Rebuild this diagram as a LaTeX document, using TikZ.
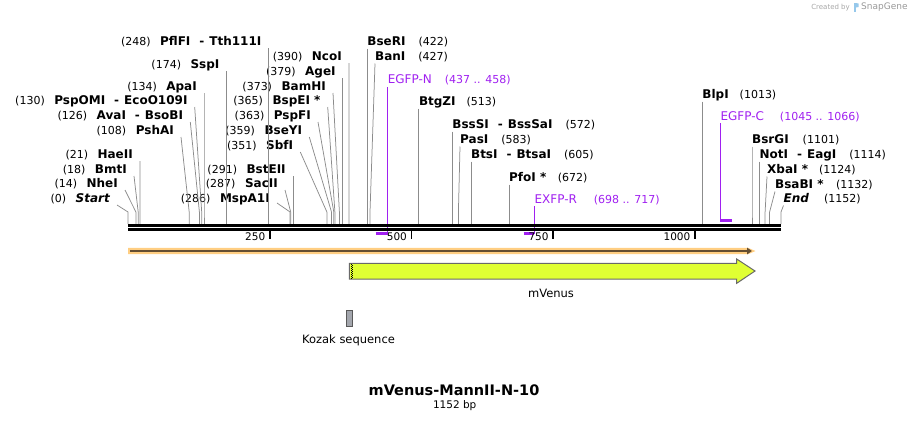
\documentclass[tikz,border=0pt]{standalone}
\usepackage{fontspec}
\setmainfont{DejaVu Sans}
\usetikzlibrary{arrows.meta}
\definecolor{cg}{RGB}{140, 140, 140}
\definecolor{pc}{RGB}{160, 32, 240}
\definecolor{bandlight}{RGB}{255, 206, 130}
\definecolor{banddark}{RGB}{100, 78, 50}
\definecolor{venus}{RGB}{224, 255, 51}
\definecolor{venusedge}{RGB}{105, 105, 105}
\definecolor{kozak}{RGB}{163, 166, 173}
\definecolor{logo}{RGB}{150, 200, 235}
\newcommand{\enz}[1]{{\fontsize{12}{13}\selectfont\bfseries #1}}
\newcommand{\pname}[1]{{\fontsize{12}{13}\selectfont #1}}
\tikzset{
  lsite/.style={inner sep=0pt, anchor=east, font=\fontsize{11}{13}\selectfont},
  rsite/.style={inner sep=0pt, anchor=west, font=\fontsize{11}{13}\selectfont},
  psite/.style={rsite, text=pc},
  cut/.style={draw=cg, line width=0.75pt},
  pline/.style={draw=pc, line width=1.4pt},
  pmark/.style={draw=pc, line width=2.2pt},
  tick/.style={draw=black, line width=1.6pt},
  ticklabel/.style={inner sep=0pt, anchor=east, font=\fontsize{10.5}{12}\selectfont},
}

\begin{document}
\begin{tikzpicture}[x=1pt, y=-1pt]
\useasboundingbox (0,0) rectangle (910,421);

% points on the backbone
\coordinate (x0) at (128.0, 224);
\coordinate (x14) at (135.9, 224);
\coordinate (x18) at (138.2, 224);
\coordinate (x21) at (139.9, 224);
\coordinate (x108) at (189.2, 224);
\coordinate (x126) at (199.4, 224);
\coordinate (x130) at (201.7, 224);
\coordinate (x134) at (204.0, 224);
\coordinate (x174) at (226.6, 224);
\coordinate (x248) at (268.6, 224);
\coordinate (x286) at (290.1, 224);
\coordinate (x287) at (290.7, 224);
\coordinate (x291) at (292.9, 224);
\coordinate (x351) at (326.9, 224);
\coordinate (x359) at (331.5, 224);
\coordinate (x363) at (333.8, 224);
\coordinate (x365) at (334.9, 224);
\coordinate (x373) at (339.4, 224);
\coordinate (x379) at (342.8, 224);
\coordinate (x390) at (349.1, 224);
\coordinate (x422) at (367.2, 224);
\coordinate (x427) at (370.0, 224);
\coordinate (x513) at (418.8, 224);
\coordinate (x572) at (452.2, 224);
\coordinate (x583) at (458.4, 224);
\coordinate (x605) at (470.9, 224);
\coordinate (x672) at (508.9, 224);
\coordinate (x1013) at (702.2, 224);
\coordinate (x1101) at (752.0, 224);
\coordinate (x1114) at (759.4, 224);
\coordinate (x1124) at (765.1, 224);
\coordinate (x1132) at (769.6, 224);
\coordinate (x1152) at (781.0, 224);

% enzyme labels, left side
\node (tth) [lsite] at (261.6, 42) {(248)\hspace{9.5pt}\enz{PflFI\hspace{9pt}-\hspace{5pt}Tth111I}};
\node (sspi) [lsite] at (219.6, 65) {(174)\hspace{9.5pt}\enz{SspI}};
\node (apai) [lsite] at (197.0, 87) {(134)\hspace{9.5pt}\enz{ApaI}};
\node (pspomi) [lsite] at (187.7, 101) {(130)\hspace{9.5pt}\enz{PspOMI\hspace{9pt}-\hspace{5pt}EcoO109I}};
\node (avai) [lsite] at (183.3, 116) {(126)\hspace{9.5pt}\enz{AvaI\hspace{9pt}-\hspace{5pt}BsoBI}};
\node (pshai) [lsite] at (174.0, 131) {(108)\hspace{9.5pt}\enz{PshAI}};
\node (haeii) [lsite] at (133.0, 155) {(21)\hspace{9.5pt}\enz{HaeII}};
\node (bmti) [lsite] at (127.0, 170) {(18)\hspace{9.5pt}\enz{BmtI}};
\node (nhei) [lsite] at (118.0, 184) {(14)\hspace{9.5pt}\enz{NheI}};
\node (start) [lsite] at (110.0, 199) {(0)\hspace{9.5pt}\enz{\itshape Start}};
\node (ncoi) [lsite] at (342.0, 57) {(390)\hspace{9.5pt}\enz{NcoI}};
\node (agei) [lsite] at (335.8, 72) {(379)\hspace{9.5pt}\enz{AgeI}};
\node (bamhi) [lsite] at (326.0, 87) {(373)\hspace{9.5pt}\enz{BamHI}};
\node (bspei) [lsite] at (320.7, 101) {(365)\hspace{9.5pt}\enz{BspEI *}};
\node (pspfi) [lsite] at (311.0, 116) {(363)\hspace{9.5pt}\enz{PspFI}};
\node (bseyi) [lsite] at (302.3, 131) {(359)\hspace{9.5pt}\enz{BseYI}};
\node (sbfi) [lsite] at (293.3, 146) {(351)\hspace{9.5pt}\enz{SbfI}};
\node (bsteii) [lsite] at (285.9, 170) {(291)\hspace{9.5pt}\enz{BstEII}};
\node (sacii) [lsite] at (278.0, 184) {(287)\hspace{9.5pt}\enz{SacII}};
\node (mspa) [lsite] at (270.0, 199) {(286)\hspace{9.5pt}\enz{MspA1I}};

% enzyme labels, right side
\node (bseri) [rsite] at (367.2, 42) {\enz{BseRI}\hspace{13pt}(422)};
\node (bani) [rsite] at (375.0, 57) {\enz{BanI}\hspace{13pt}(427)};
\node (btgzi) [rsite] at (418.8, 102) {\enz{BtgZI}\hspace{11pt}(513)};
\node (bsssi) [rsite] at (452.2, 125) {\enz{BssSI\hspace{9pt}-\hspace{5pt}BssSaI}\hspace{13pt}(572)};
\node (pasi) [rsite] at (460.0, 140) {\enz{PasI}\hspace{13pt}(583)};
\node (btsi) [rsite] at (470.9, 155) {\enz{BtsI\hspace{9pt}-\hspace{5pt}BtsaI}\hspace{13pt}(605)};
\node (pfoi) [rsite] at (508.9, 178) {\enz{PfoI *}\hspace{11.5pt}(672)};
\node (blpi) [rsite] at (702.2, 95) {\enz{BlpI}\hspace{11pt}(1013)};
\node (bsrgi) [rsite] at (752.0, 140) {\enz{BsrGI}\hspace{14pt}(1101)};
\node (noti) [rsite] at (759.4, 155) {\enz{NotI\hspace{9pt}-\hspace{5pt}EagI}\hspace{13pt}(1114)};
\node (xbai) [rsite] at (767.0, 170) {\enz{XbaI *}\hspace{11pt}(1124)};
\node (bsabi) [rsite] at (775.0, 185) {\enz{BsaBI *}\hspace{12.5pt}(1132)};
\node (finish) [rsite] at (783.5, 199) {\enz{\itshape End}\hspace{15pt}(1152)};

% primers
\node (egfpn) [psite] at (387.6, 80) {\pname{EGFP-N}\hspace{13pt}(437 .. 458)};
\node (exfpr) [psite] at (534.4, 200) {\pname{EXFP-R}\hspace{17pt}(698 .. 717)};
\node (egfpc) [psite] at (720.3, 117) {\pname{EGFP-C}\hspace{16pt}(1045 .. 1066)};
\coordinate (pna) at (375.7, 233.5);
\coordinate (pnb) at (387.6, 233.5);
\coordinate (pra) at (523.6, 233.5);
\coordinate (prb) at (534.4, 233.5);
\coordinate (pca) at (720.3, 220.5);
\coordinate (pcb) at (732.2, 220.5);
\draw [pline] ([yshift=-7pt]egfpn.west) -- (pnb);
\draw [pmark] (pna) -- (pnb);
\draw [pline] ([yshift=-6pt]exfpr.west) -- (prb);
\draw [pmark] (pra) -- (prb);
\draw [pline] ([yshift=-6pt]egfpc.west) -- (pca);
\draw [pmark] (pca) -- (pcb);

% cut lines, left side
\draw [cut] ([shift={(7,6)}]tth.east) -- ([yshift=12pt]x248) -- (x248);
\draw [cut] ([shift={(7,6)}]sspi.east) -- ([yshift=12pt]x174) -- (x174);
\draw [cut] ([shift={(7,6)}]apai.east) -- ([yshift=12pt]x134) -- (x134);
\draw [cut] ([shift={(7,6)}]pspomi.east) -- ([yshift=12pt]x130) -- (x130);
\draw [cut] ([shift={(7,6)}]avai.east) -- ([yshift=12pt]x126) -- (x126);
\draw [cut] ([shift={(7,6)}]pshai.east) -- ([yshift=12pt]x108) -- (x108);
\draw [cut] ([shift={(7,6)}]haeii.east) -- ([yshift=12pt]x21) -- (x21);
\draw [cut] ([shift={(7,6)}]bmti.east) -- ([yshift=12pt]x18) -- (x18);
\draw [cut] ([shift={(7,6)}]nhei.east) -- ([yshift=12pt]x14) -- (x14);
\draw [cut] ([shift={(7,6)}]start.east) -- ([yshift=12pt]x0) -- (x0);
\draw [cut] ([shift={(7,6)}]ncoi.east) -- ([yshift=12pt]x390) -- (x390);
\draw [cut] ([shift={(7,6)}]agei.east) -- ([yshift=12pt]x379) -- (x379);
\draw [cut] ([shift={(7,6)}]bamhi.east) -- ([yshift=12pt]x373) -- (x373);
\draw [cut] ([shift={(7,6)}]bspei.east) -- ([yshift=12pt]x365) -- (x365);
\draw [cut] ([shift={(7,6)}]pspfi.east) -- ([yshift=12pt]x363) -- (x363);
\draw [cut] ([shift={(7,6)}]bseyi.east) -- ([yshift=12pt]x359) -- (x359);
\draw [cut] ([shift={(7,6)}]sbfi.east) -- ([yshift=12pt]x351) -- (x351);
\draw [cut] ([shift={(7,6)}]bsteii.east) -- ([yshift=12pt]x291) -- (x291);
\draw [cut] ([shift={(7,6)}]sacii.east) -- ([yshift=12pt]x287) -- (x287);
\draw [cut] ([shift={(7,4)}]mspa.east) -- ([yshift=12pt]x286) -- (x286);

% cut lines, right side
\draw [cut] ([yshift=-6.5pt]bseri.west) -- ([yshift=12pt]x422) -- (x422);
\draw [cut] ([yshift=-6.5pt]bani.west) -- ([yshift=12pt]x427) -- (x427);
\draw [cut] ([yshift=-6.5pt]btgzi.west) -- ([yshift=12pt]x513) -- (x513);
\draw [cut] ([yshift=-6.5pt]bsssi.west) -- ([yshift=12pt]x572) -- (x572);
\draw [cut] ([yshift=-6.5pt]pasi.west) -- ([yshift=12pt]x583) -- (x583);
\draw [cut] ([yshift=-6.5pt]btsi.west) -- ([yshift=12pt]x605) -- (x605);
\draw [cut] ([yshift=-6.5pt]pfoi.west) -- ([yshift=12pt]x672) -- (x672);
\draw [cut] ([yshift=-6.5pt]blpi.west) -- ([yshift=12pt]x1013) -- (x1013);
\draw [cut] ([yshift=-6.5pt]bsrgi.west) -- ([yshift=12pt]x1101) -- (x1101);
\draw [cut] ([yshift=-6.5pt]noti.west) -- ([yshift=12pt]x1114) -- (x1114);
\draw [cut] ([yshift=-6.5pt]xbai.west) -- ([yshift=12pt]x1124) -- (x1124);
\draw [cut] ([yshift=-6.5pt]bsabi.west) -- ([yshift=12pt]x1132) -- (x1132);
\draw [cut] ([yshift=-6.5pt]finish.west) -- ([yshift=12pt]x1152) -- (x1152);

% backbone
\coordinate (bbl) at (128, 225.3);
\coordinate (bbr) at (781, 225.3);
\draw [line width=2.7pt] (bbl) -- (bbr);
\draw [line width=2.7pt] ([yshift=-4pt]bbl) -- ([yshift=-4pt]bbr);
\foreach \p/\t in {269.7/250, 411.4/500, 553.1/750, 694.8/1000} {
  \draw [tick] (\p, 230) -- (\p, 238.5);
  \node (t\t) [ticklabel] at (\p-4.3, 236.5) {\t};
}

% orf band
\fill [bandlight] (128, 247.8) -- (748, 247.8) -- (755.5, 251) -- (748, 254.2) -- (128, 254.2) -- cycle;
\draw [banddark, line width=2.3pt, -{Triangle[length=5pt, width=6.5pt]}] (130, 251) -- (752, 251);

% mVenus feature
\draw [fill=venus, draw=venusedge, line width=1pt] (349.3, 263.3) -- (736.7, 263.3) -- (736.7, 259) -- (755, 271) -- (736.7, 283.3) -- (736.7, 279) -- (349.3, 279) -- cycle;
\draw [black, line width=0.9pt, dash pattern=on 1pt off 1pt] (351, 264) -- (351, 278.5);
\draw [black, line width=0.9pt, dash pattern=on 1pt off 1pt] (352.8, 265) -- (352.8, 278.5);
\node (venuslabel) [inner sep=0pt, font=\fontsize{11.5}{13}\selectfont] at (551, 293) {mVenus};

% Kozak sequence
\draw [fill=kozak, draw=black!65, line width=0.8pt] (346.3, 310.7) rectangle (352.7, 326);
\node (kozaklabel) [inner sep=0pt, font=\fontsize{11.5}{13}\selectfont] at (348.5, 340) {Kozak sequence};

% title
\node (title) [inner sep=0pt, font=\fontsize{14.5}{16}\selectfont\bfseries] at (454, 390) {mVenus-MannII-N-10};
\node (size) [inner sep=0pt, font=\fontsize{10.5}{12}\selectfont] at (454.7, 406) {1152 bp};

% credit
\node (credit) [inner sep=0pt, anchor=east, text=black!35, font=\fontsize{7}{8}\selectfont] at (850, 7.5) {Created by};
\fill [logo] (853.5, 3) rectangle (856, 12);
\fill [logo] (856, 3) -- (858.5, 3.5) -- (858.5, 7) -- (856, 7.5) -- cycle;
\node (snapgene) [inner sep=0pt, anchor=west, text=black!40, font=\fontsize{9}{10}\selectfont] at (861, 7.5) {SnapGene};
\end{tikzpicture}
\end{document}
